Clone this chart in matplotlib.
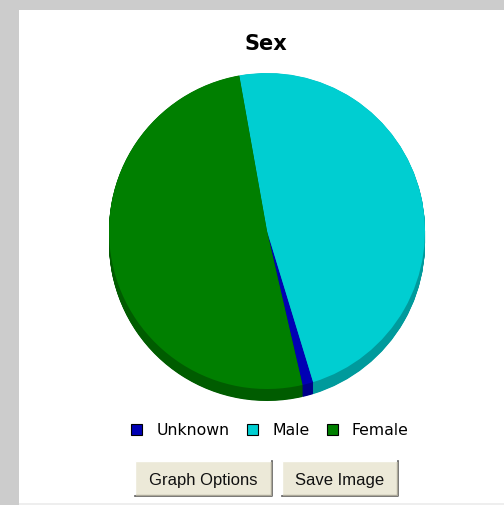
import numpy as np
from matplotlib import pyplot as plt
from matplotlib.patches import Rectangle, Patch

# data (percent)
labels = ['Unknown', 'Male', 'Female']
values = [1.1, 48.1, 50.8]
colors = ['#0000b4', '#00ced1', '#007f00']
side_colors = ['#00008a', '#009a9c', '#005c00']
title = 'Sex'
buttons = ['Graph Options', 'Save Image']

W, H = 504, 506
fig = plt.figure(figsize=(W / 100, H / 100), dpi=100)
fig.patch.set_facecolor('white')

# background overlay in pixel coordinates
bg = fig.add_axes([0, 0, 1, 1])
bg.set_xlim(0, W)
bg.set_ylim(H, 0)
bg.axis('off')
bg.add_patch(Rectangle((0, 0), W, 11, color='#cccccc', lw=0))
bg.add_patch(Rectangle((0, 0), 19, H, color='#cccccc', lw=0))
bg.add_patch(Rectangle((19, 504), W, 2, color='#eeeeee', lw=0))

# pie axes: radius 1 == 158 px
cx, cy, r, depth = 267, 232, 158, 12
bottom = cy + r + depth + 2
ax = fig.add_axes([(cx - r) / W, 1 - bottom / H, 2 * r / W, (bottom - (cy - r)) / H])

start = 283
for off in np.linspace(depth / r, 0.002, 24):
    ax.pie(values, colors=side_colors, startangle=start, counterclock=True,
           center=(0, -off), radius=1, wedgeprops=dict(linewidth=0))
wedges, _ = ax.pie(values, colors=colors, startangle=start, counterclock=True,
                   radius=1, wedgeprops=dict(linewidth=0))
ax.set_aspect('auto')
ax.set_xlim(-1, 1)
ax.set_ylim(-(r + depth + 2) / r, 1)
ax.axis('off')

fig.text(266 / W, 1 - 44 / H, title, ha='center', va='center',
         fontsize=15, fontweight='bold', family='DejaVu Sans')

handles = [Patch(facecolor=c, edgecolor='black', linewidth=0.8) for c in colors]
fig.legend(handles, labels, loc='center', bbox_to_anchor=(270 / W, 1 - 431 / H),
           ncol=3, frameon=False, fontsize=11.3, handlelength=0.7, handleheight=0.7,
           handletextpad=0.9, columnspacing=1.1, borderpad=0)

# buttons
for (x0, x1), txt in zip([(135, 272), (282, 398)], buttons):
    y0, y1 = 462, 497
    bg.add_patch(Rectangle((x0, y0), x1 - x0, y1 - y0, facecolor='#ece9d8',
                           edgecolor='#ffffff', lw=1))
    bg.plot([x0, x1, x1], [y1, y1, y0], color='#555555', lw=1.2)
    bg.plot([x0 + 1, x1 - 1, x1 - 1], [y1 - 1, y1 - 1, y0 + 1], color='#aca899', lw=1)
    bg.text((x0 + x1) / 2, (y0 + y1) / 2 + 1, txt, ha='center', va='center',
            fontsize=12, family='Liberation Sans', color='#111111')

fig.savefig('out.png', dpi=100)
